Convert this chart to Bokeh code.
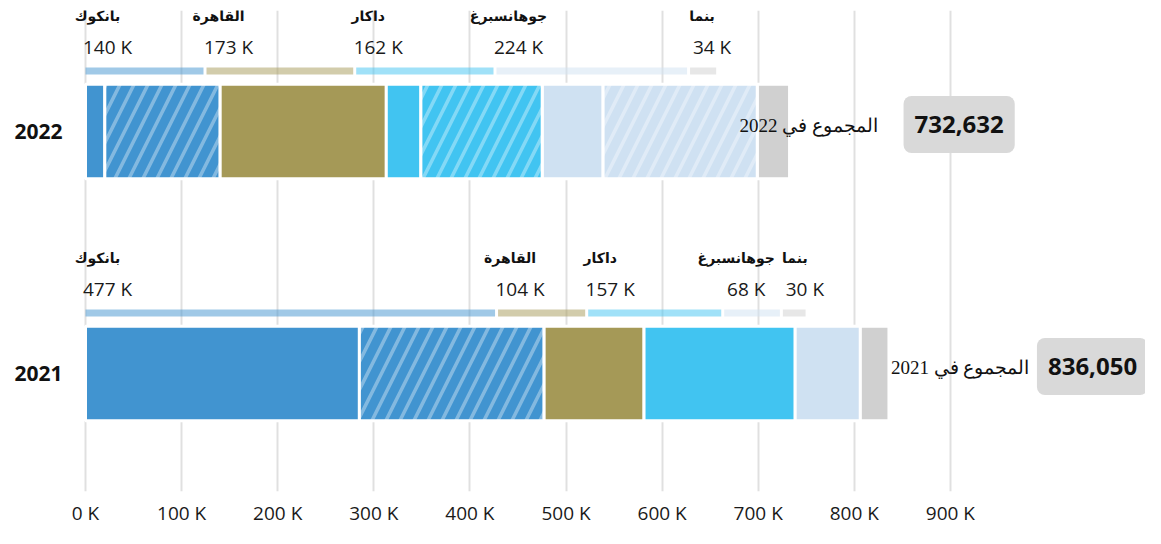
from bokeh.plotting import figure
from bokeh.models import Range1d, FixedTicker, ColumnDataSource
from bokeh.core.properties import value
from bokeh.embed import file_html
from bokeh.resources import INLINE

# ---------------- data ----------------
years = ["2022", "2021"]
cities = ["بانكوك", "القاهرة", "داكار", "جوهانسبرغ", "بنما"]
solid_2022 = [20100, 173100, 36000, 63400, 33632]
hatched_2022 = [119800, 0, 126200, 160400, 0]
solid_2021 = [285000, 104200, 157300, 67800, 29750]
hatched_2021 = [192000, 0, 0, 0, 0]
x_ticks = [0, 100000, 200000, 300000, 400000, 500000, 600000, 700000, 800000, 900000]
x_tick_labels = ["0 K", "100 K", "200 K", "300 K", "400 K", "500 K", "600 K", "700 K", "800 K", "900 K"]
total_caption = "المجموع في"

# ---------------- style / layout ----------------
city_colors = ["#4194D0", "#A59957", "#41C4F1", "#CFE1F2", "#D0D0D0"]
W, H = 1145, 528
BL, BT, BB = 70, 10, 34
PX_PER_UNIT = 96.1 / 100000
ZERO_PX = 85
x_start = -(ZERO_PX - BL) / PX_PER_UNIT
x_end = x_start + (W - BL) / PX_PER_UNIT
UNIT_PX = 243.5
y_start = 2 - (H - BT - BB) / UNIT_PX
LINE_SCALE = 0.9
BAR_H = 0.39
LINE_DY = 0.25
GAP = 3 / PX_PER_UNIT
total_label_dx = {"2022": -50, "2021": 2}
total_box_dx = {"2022": 114, "2021": 148}

solid = {"2022": solid_2022, "2021": solid_2021}
hatched = {"2022": hatched_2022, "2021": hatched_2021}

p = figure(width=W, height=H, x_range=Range1d(x_start, x_end), y_range=Range1d(y_start, 2),
           output_backend="svg", toolbar_location=None,
           min_border_left=BL, min_border_right=0, min_border_top=BT, min_border_bottom=BB)
p.outline_line_color = None
p.background_fill_color = "white"
p.border_fill_color = "white"

sb = dict(y=[], left=[], right=[], color=[])
hb = dict(y=[], left=[], right=[], color=[])
ln = dict(x0=[], x1=[], y=[], color=[])
lb = dict(x=[], y=[], name=[], val=[])
tt = dict(x=[], y=[], cap=[], num=[], dl=[], db=[])
ypos = {}
for i, yr in enumerate(years):
    yc = len(years) - i - 0.5
    ypos[yr] = yc
    cum = 0
    for j, c in enumerate(cities):
        s, h = solid[yr][j], hatched[yr][j]
        start = cum
        if s > 0:
            sb["y"].append(yc); sb["left"].append(cum); sb["right"].append(cum + s); sb["color"].append(city_colors[j])
            cum += s
        if h > 0:
            hb["y"].append(yc); hb["left"].append(cum); hb["right"].append(cum + h); hb["color"].append(city_colors[j])
            cum += h
        ln["x0"].append(start * LINE_SCALE); ln["x1"].append(cum * LINE_SCALE - GAP)
        ln["y"].append(yc + LINE_DY); ln["color"].append(city_colors[j])
        lb["x"].append(start * LINE_SCALE); lb["y"].append(yc)
        lb["name"].append(c); lb["val"].append(f"{round((s + h) / 1000)} K")
    tt["x"].append(cum); tt["y"].append(yc)
    tt["cap"].append(f"{total_caption} {yr}"); tt["num"].append(f"{cum:,}")
    tt["dl"].append(total_label_dx[yr]); tt["db"].append(total_box_dx[yr])

p.hbar(y="y", left="left", right="right", height=BAR_H, fill_color="color",
       line_color="white", line_width=3, source=ColumnDataSource(sb))
p.hbar(y="y", left="left", right="right", height=BAR_H, fill_color="color",
       line_color="white", line_width=3, hatch_pattern="/", hatch_color="white",
       hatch_alpha=0.35, hatch_weight=3.5, hatch_scale=28, source=ColumnDataSource(hb))
p.segment(x0="x0", x1="x1", y0="y", y1="y", line_color="color", line_alpha=0.5,
          line_width=7, line_cap="butt", source=ColumnDataSource(ln))

lsrc = ColumnDataSource(lb)
p.text(x="x", y="y", text="val", source=lsrc, x_offset=22, y_offset=-84,
       text_align="center", text_baseline="middle", text_font=value("Open Sans"),
       text_font_size="19px", text_color="#1a1a1a")
p.text(x="x", y="y", text="name", source=lsrc, x_offset=12, y_offset=-115,
       text_align="center", text_baseline="middle", text_font=value("DejaVu Sans"),
       text_font_style="bold", text_font_size="14px", text_color="#111111")

tsrc = ColumnDataSource(tt)
p.text(x="x", y="y", text="cap", source=tsrc, x_offset="dl", y_offset=-6,
       text_align="left", text_baseline="middle", text_font=value("Liberation Serif"),
       text_font_size="19px", text_color="#111111")
p.text(x="x", y="y", text="num", source=tsrc, x_offset="db", y_offset=-7,
       text_align="left", text_baseline="middle", text_font=value("Open Sans"),
       text_font_style="bold", text_font_size="24px", text_color="#111111",
       background_fill_color="#D9D9D9", border_radius=8, padding=dict(x=11, y=20))

# axes
p.xaxis.ticker = FixedTicker(ticks=x_ticks)
p.xaxis.major_label_overrides = dict(zip(x_ticks, x_tick_labels))
p.xgrid.ticker = FixedTicker(ticks=x_ticks)
p.xgrid.grid_line_color = "#E0E0E0"
p.xgrid.grid_line_width = 2
p.ygrid.grid_line_color = None
p.xaxis.axis_line_color = None
p.xaxis.major_tick_line_color = None
p.xaxis.minor_tick_line_color = None
p.xaxis.major_tick_out = 0
p.xaxis.major_tick_in = 0
p.xaxis.major_label_standoff = 8
p.xaxis.major_label_text_font = "Open Sans"
p.xaxis.major_label_text_font_size = "19px"
p.xaxis.major_label_text_color = "#1a1a1a"

p.yaxis.ticker = FixedTicker(ticks=[ypos[y] for y in years])
p.yaxis.major_label_overrides = {ypos[y]: y for y in years}
p.yaxis.axis_line_color = None
p.yaxis.major_tick_line_color = None
p.yaxis.minor_tick_line_color = None
p.yaxis.major_tick_out = 0
p.yaxis.major_tick_in = 0
p.yaxis.major_label_standoff = 8
p.yaxis.major_label_text_font = "Open Sans"
p.yaxis.major_label_text_font_style = "bold"
p.yaxis.major_label_text_font_size = "21px"
p.yaxis.major_label_text_color = "#111111"

open("out.html", "w").write(file_html(p, INLINE))
